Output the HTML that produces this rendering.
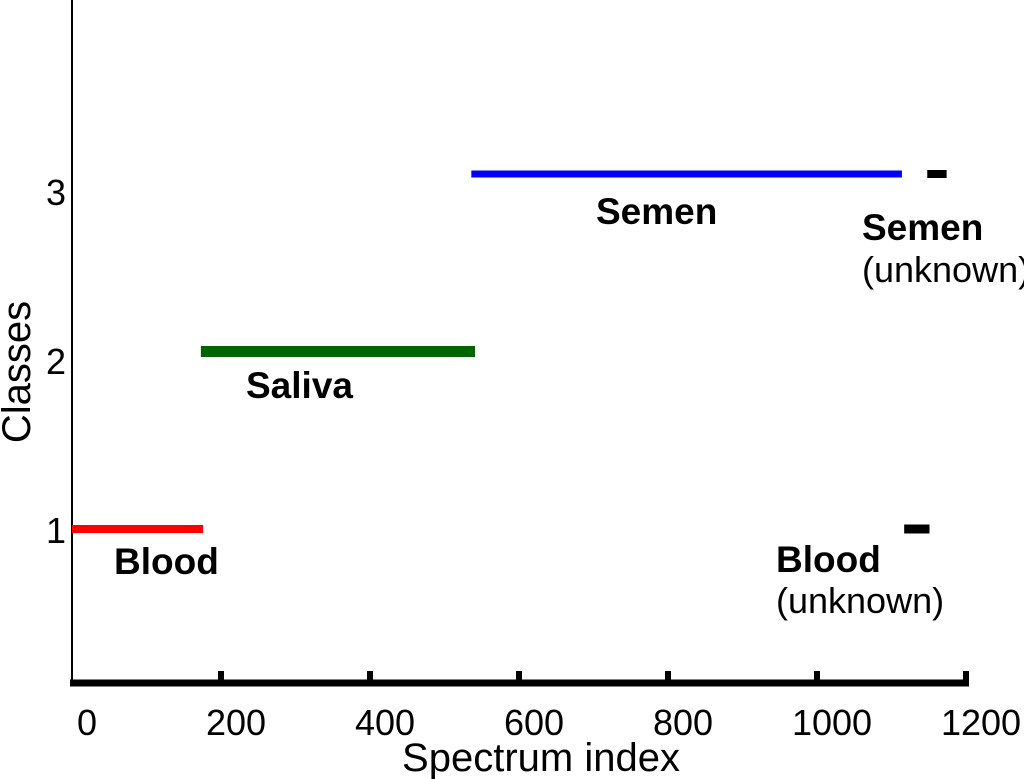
<!DOCTYPE html>
<html><head><meta charset="utf-8"><style>
body{margin:0;background:#fff;}
svg{display:block;font-family:"Liberation Sans",Arial,sans-serif;}
</style></head><body>
<svg id="c" width="1024" height="779">
<g id="axes"></g>
<g id="marks"></g>
<g font-weight="bold" font-size="37">
<text x="114" y="574">Blood</text>
<text x="246" y="398">Saliva</text>
<text x="596" y="224">Semen</text>
<text x="862" y="240">Semen</text>
<text x="862" y="282" font-size="36" font-weight="normal">(unknown)</text>
<text x="776" y="572">Blood</text>
<text x="776" y="613" font-size="36" font-weight="normal">(unknown)</text>
</g>
<text x="541" y="771" font-size="40" text-anchor="middle">Spectrum index</text>
<text transform="translate(30,372) rotate(-90)" font-size="40" text-anchor="middle">Classes</text>
</svg>
<script>
const xTicks=[0,200,400,600,800,1000,1200];
const yTicks=[1,2,3];
const segStart=[0,173,536,1117,1148];
const segEnd=[176,541,1114,1151,1174];
const segClass=[1,2,3,1,3];
const segNames=['blood-segment','saliva-segment','semen-segment','blood-unknown-segment','semen-unknown-segment'];
const segColors=['#ff0000','#006400','#0000ff','#000000','#000000'];
const segWidth=[8,11,7,9,8];
const X=v=>72+v*0.745;
const Y=v=>529-(v-1)*177.5;
const YL=v=>530-(v-1)*169;
const NS='http://www.w3.org/2000/svg';
const ax=document.getElementById('axes'),mk=document.getElementById('marks');
function el(t,a,p){const e=document.createElementNS(NS,t);for(const k in a)e.setAttribute(k,a[k]);p.appendChild(e);return e;}
let l=el('line',{x1:72,y1:0,x2:72,y2:686,stroke:'#000','stroke-width':2},ax);


l=el('line',{x1:70,y1:683,x2:969,y2:683,stroke:'#000','stroke-width':7},ax);


xTicks.forEach(v=>{
 if(v>0){const t=el('line',{x1:X(v),y1:671,x2:X(v),y2:683,stroke:'#000','stroke-width':6},ax);
 
 }
 const tx=el('text',{x:X(v)+15,y:735,'font-size':36,'text-anchor':'middle'},ax);tx.textContent=v;
 
 
});
yTicks.forEach(v=>{
 const tx=el('text',{x:56,y:YL(v)+13,'font-size':36,'text-anchor':'middle'},ax);tx.textContent=v;
 
 
});
segStart.forEach((s,i)=>{
 const r=el('line',{x1:X(s),y1:Y(segClass[i]),x2:X(segEnd[i]),y2:Y(segClass[i]),stroke:segColors[i],'stroke-width':segWidth[i],'stroke-linecap':'butt'},mk);
 
 
});
</script>
</body></html>
